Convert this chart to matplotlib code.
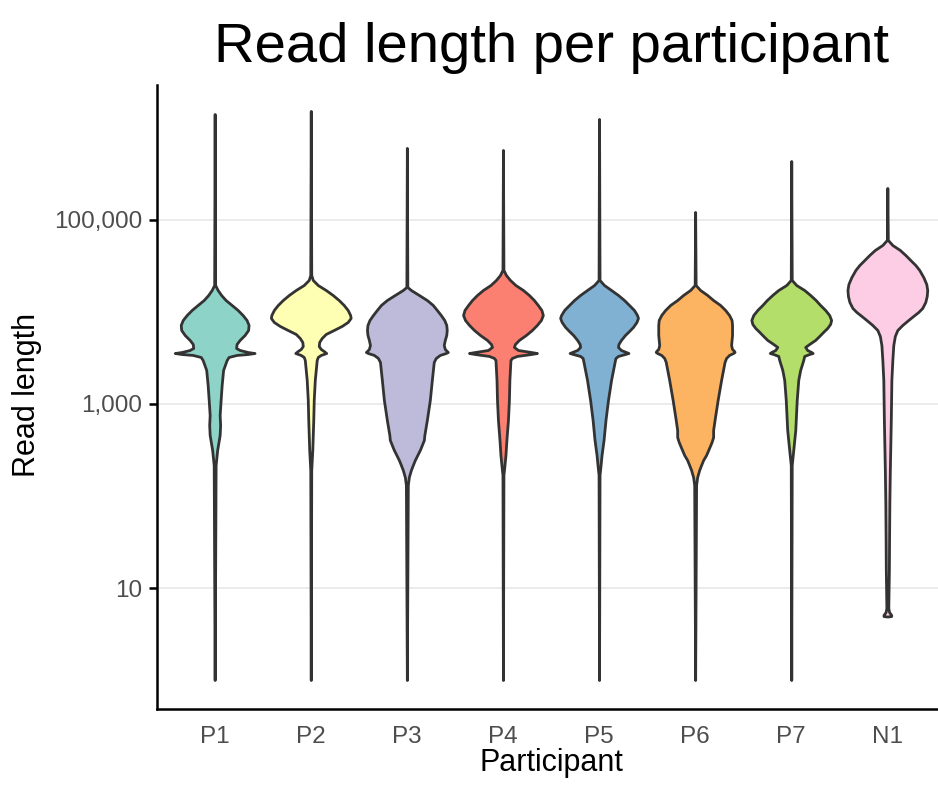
import matplotlib
matplotlib.use("Agg")
import matplotlib.pyplot as plt
from matplotlib.ticker import FixedLocator, FixedFormatter, NullLocator
import numpy as np

plt.rcParams['font.family'] = ['Liberation Sans', 'DejaVu Sans']

participants = ["P1", "P2", "P3", "P4", "P5", "P6", "P7", "N1"]
colors = ["#8DD3C7", "#FFFFB3", "#BEBADA", "#FB8072",
          "#80B1D3", "#FDB462", "#B3DE69", "#FCCDE5"]

# violin outlines:
# log10(read length) from top to bottom, and half-width in x units
p1_log = [6.152, 4.293, 4.239, 4.185, 4.130, 4.076, 4.022, 3.967, 3.913, 3.859, 3.804,
          3.750, 3.696, 3.652, 3.609, 3.587, 3.565, 3.554, 3.543, 3.533, 3.511, 3.478,
          3.370, 3.207, 3.043, 2.880, 2.772, 2.663, 2.500, 2.337, 0.0]
p1_hw = [0, 0.005, 0.031, 0.067, 0.114, 0.177, 0.239, 0.291, 0.332, 0.353, 0.348,
         0.312, 0.260, 0.228, 0.223, 0.260, 0.343, 0.415, 0.343, 0.228, 0.145, 0.125,
         0.088, 0.073, 0.062, 0.052, 0.057, 0.052, 0.026, 0.010, 0]

p2_log = [6.185, 4.402, 4.348, 4.293, 4.239, 4.185, 4.130, 4.076, 4.022, 3.967, 3.935,
          3.891, 3.848, 3.804, 3.761, 3.717, 3.674, 3.630, 3.598, 3.576, 3.554, 3.533,
          3.511, 3.478, 3.370, 3.261, 3.043, 2.826, 2.500, 2.283, 0.0]
p2_hw = [0, 0.005, 0.021, 0.073, 0.156, 0.228, 0.291, 0.343, 0.384, 0.410, 0.415,
         0.384, 0.322, 0.239, 0.156, 0.114, 0.088, 0.083, 0.104, 0.135, 0.161, 0.104,
         0.073, 0.062, 0.052, 0.042, 0.031, 0.026, 0.016, 0.005, 0]

p3_log = [5.783, 4.272, 4.239, 4.185, 4.130, 4.076, 4.022, 3.967, 3.913, 3.859, 3.804,
          3.750, 3.696, 3.641, 3.598, 3.576, 3.565, 3.554, 3.533, 3.500, 3.457, 3.261,
          3.043, 2.826, 2.663, 2.609, 2.554, 2.500, 2.446, 2.391, 2.337, 2.283, 2.207,
          2.120, 0.0]
p3_hw = [0, 0.005, 0.042, 0.125, 0.208, 0.270, 0.312, 0.353, 0.389, 0.410, 0.415,
         0.410, 0.395, 0.384, 0.395, 0.415, 0.426, 0.405, 0.343, 0.301, 0.280, 0.260,
         0.239, 0.208, 0.182, 0.177, 0.156, 0.135, 0.109, 0.083, 0.062, 0.042, 0.021,
         0.010, 0]

p4_log = [5.761, 4.457, 4.402, 4.348, 4.293, 4.239, 4.185, 4.130, 4.076, 4.022, 3.967,
          3.913, 3.859, 3.804, 3.750, 3.696, 3.652, 3.620, 3.587, 3.565, 3.554, 3.543,
          3.522, 3.500, 3.478, 3.261, 3.043, 2.826, 2.609, 2.446, 2.337, 2.228, 0.0]
p4_hw = [0, 0.005, 0.031, 0.073, 0.130, 0.208, 0.270, 0.322, 0.363, 0.400, 0.415,
         0.395, 0.353, 0.301, 0.239, 0.166, 0.125, 0.114, 0.156, 0.291, 0.353, 0.291,
         0.145, 0.093, 0.078, 0.067, 0.062, 0.052, 0.036, 0.026, 0.016, 0.005, 0]

p5_log = [6.098, 4.348, 4.293, 4.239, 4.185, 4.130, 4.076, 4.022, 3.967, 3.935, 3.891,
          3.837, 3.793, 3.750, 3.696, 3.652, 3.620, 3.587, 3.565, 3.554, 3.543, 3.522,
          3.500, 3.478, 3.261, 3.043, 2.826, 2.609, 2.446, 2.337, 2.228, 0.0]
p5_hw = [0, 0.005, 0.052, 0.125, 0.197, 0.260, 0.312, 0.363, 0.395, 0.405, 0.389,
         0.353, 0.312, 0.270, 0.228, 0.202, 0.197, 0.228, 0.280, 0.306, 0.270, 0.197,
         0.171, 0.166, 0.125, 0.093, 0.067, 0.047, 0.026, 0.016, 0.005, 0]

p6_log = [5.087, 4.293, 4.239, 4.185, 4.130, 4.076, 4.022, 3.967, 3.913, 3.859, 3.750,
          3.641, 3.598, 3.576, 3.565, 3.554, 3.533, 3.500, 3.457, 3.261, 3.043, 2.826,
          2.717, 2.641, 2.587, 2.522, 2.446, 2.391, 2.337, 2.283, 2.207, 2.120, 0.0]
p6_hw = [0, 0.005, 0.052, 0.125, 0.187, 0.260, 0.312, 0.353, 0.379, 0.384, 0.384,
         0.374, 0.384, 0.405, 0.410, 0.395, 0.353, 0.322, 0.306, 0.270, 0.234, 0.202,
         0.187, 0.187, 0.171, 0.145, 0.114, 0.083, 0.062, 0.042, 0.021, 0.010, 0]

p7_log = [5.641, 4.348, 4.293, 4.239, 4.185, 4.130, 4.076, 4.022, 3.967, 3.913, 3.870,
          3.826, 3.783, 3.739, 3.696, 3.652, 3.620, 3.587, 3.565, 3.554, 3.543, 3.522,
          3.478, 3.370, 3.261, 3.043, 2.717, 2.500, 2.337, 0.0]
p7_hw = [0, 0.005, 0.052, 0.135, 0.197, 0.254, 0.301, 0.353, 0.395, 0.415, 0.405,
         0.374, 0.332, 0.291, 0.249, 0.187, 0.145, 0.166, 0.208, 0.223, 0.187, 0.135,
         0.125, 0.093, 0.073, 0.057, 0.042, 0.021, 0.005, 0]

n1_log = [5.348, 4.783, 4.728, 4.674, 4.620, 4.565, 4.511, 4.457, 4.380, 4.304, 4.239,
          4.174, 4.109, 4.043, 4.000, 3.957, 3.913, 3.859, 3.804, 3.739, 3.641, 3.478,
          3.261, 2.826, 2.283, 1.924, 1.522, 1.196, 0.783, 0.739, 0.707, 0.695, 0.690]
n1_hw = [0, 0.005, 0.052, 0.130, 0.187, 0.239, 0.291, 0.332, 0.374, 0.405, 0.415,
         0.410, 0.395, 0.363, 0.322, 0.270, 0.218, 0.156, 0.104, 0.078, 0.062, 0.052,
         0.042, 0.036, 0.026, 0.021, 0.018, 0.016, 0.010, 0.018, 0.040, 0.040, 0]

profiles_log = [p1_log, p2_log, p3_log, p4_log, p5_log, p6_log, p7_log, n1_log]
profiles_hw = [p1_hw, p2_hw, p3_hw, p4_hw, p5_hw, p6_hw, p7_hw, n1_hw]

y_ticks = [10, 1000, 100000]
y_labels = ["10", "1,000", "100,000"]

W, H = 938, 787
fig = plt.figure(figsize=(W / 100, H / 100), dpi=100)
ax = fig.add_axes([157 / W, 1 - 709 / H, (945 - 157) / W, (709 - 85) / H])

for i in range(len(participants)):
    x = i + 1
    y = 10 ** np.array(profiles_log[i])
    hw = np.array(profiles_hw[i])
    ax.fill_betweenx(y, x - hw, x + hw, facecolor=colors[i],
                     edgecolor="#333333", linewidth=2.0, joinstyle="round", zorder=3)

ax.set_yscale("log")
ax.set_ylim(10 ** -0.315, 10 ** 6.467)
ax.set_xlim(0.4, 8.6)
ax.yaxis.set_major_locator(FixedLocator(y_ticks))
ax.yaxis.set_major_formatter(FixedFormatter(y_labels))
ax.yaxis.set_minor_locator(NullLocator())
ax.set_xticks(range(1, len(participants) + 1))
ax.set_xticklabels(participants)

for t in y_ticks:
    ax.axhline(t, color="#EBEBEB", linewidth=1.4, zorder=1)

for s in ["top", "right"]:
    ax.spines[s].set_visible(False)
for s in ["left", "bottom"]:
    ax.spines[s].set_linewidth(1.8)
    ax.spines[s].set_color("black")

ax.tick_params(axis="y", length=5.5, width=1.8, color="black",
               labelsize=17.5, labelcolor="#4D4D4D", pad=5)
ax.tick_params(axis="x", length=0, labelsize=17.5, labelcolor="#4D4D4D", pad=12)

fig.text(551 / W, 1 - 62 / H, "Read length per participant", fontsize=40.5,
         ha="center", va="baseline")
fig.text(551 / W, 1 - 771 / H, "Participant", fontsize=22,
         ha="center", va="baseline")
fig.text(27 / W, 1 - 395 / H, "Read length", fontsize=22, rotation=90,
         ha="center", va="center")

fig.savefig("out.png", dpi=100)
